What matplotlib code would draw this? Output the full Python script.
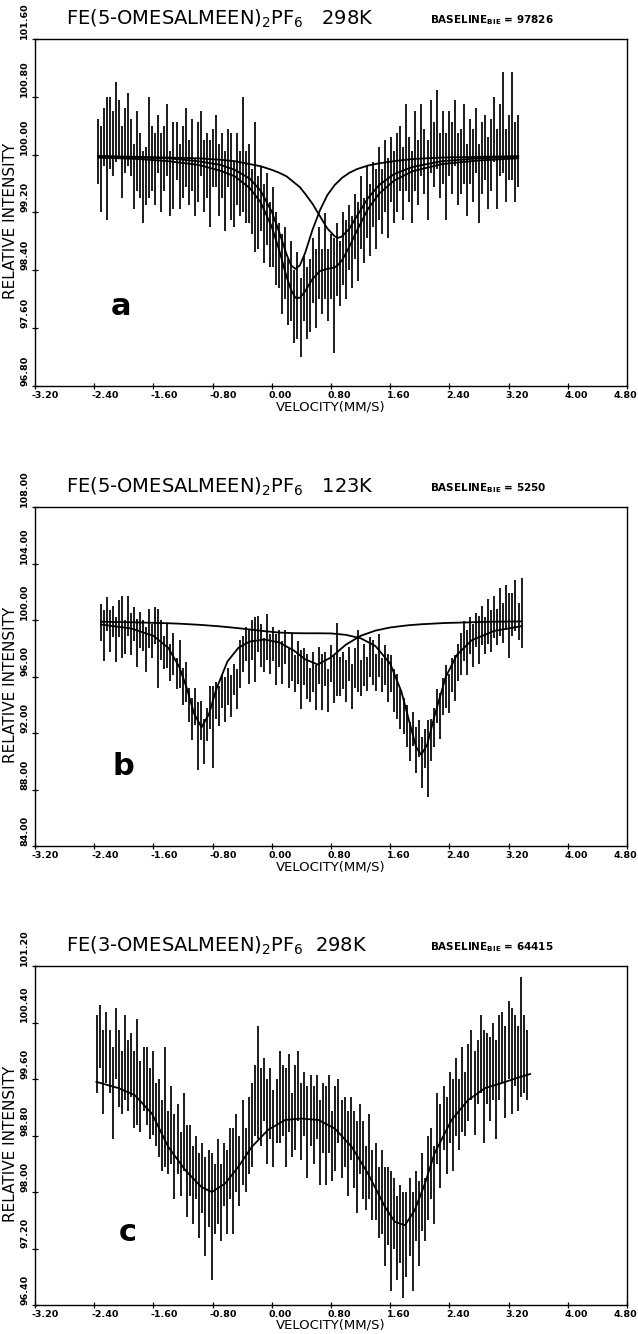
import numpy as np
import matplotlib
matplotlib.use("Agg")
import matplotlib.pyplot as plt
from matplotlib import transforms

# ---------------- panel a : FE(5-OMESALMEEN)2PF6 298K ----------------
A_VEL_RANGE = (-2.35, 3.33)
A_Y = [100.05, 99.80, 100.25, 99.95, 100.30, 100.15, 100.45, 100.35, 99.90, 100.20,
       100.35, 100.10, 99.70, 100.05, 99.85, 99.55, 99.70, 100.10, 99.95, 99.80,
       100.15, 99.75, 99.95, 100.20, 99.60, 99.85, 100.05, 99.70, 99.90, 100.10,
       99.75, 100.00, 99.55, 99.90, 100.15, 99.70, 99.85, 99.60, 99.95, 100.05,
       99.65, 99.85, 99.50, 99.95, 99.70, 99.45, 99.80, 99.60, 100.00, 99.55,
       99.60, 99.35, 99.55, 99.20, 99.40, 99.05, 99.25, 98.90, 99.00, 98.70,
       98.60, 98.35, 98.50, 98.10, 98.25, 97.90, 98.05, 97.75, 98.15, 97.95,
       98.05, 98.40, 98.15, 98.50, 98.25, 98.60, 98.20, 98.45, 98.05, 98.55,
       98.35, 98.70, 98.55, 98.85, 98.65, 99.00, 98.80, 99.20, 98.95, 99.35,
       99.10, 99.45, 99.25, 99.60, 99.35, 99.70, 99.40, 99.80, 99.55, 99.75,
       99.95, 99.60, 100.10, 99.80, 99.55, 100.05, 99.75, 100.20, 99.90, 99.65,
       100.25, 100.00, 100.35, 99.85, 100.10, 99.70, 100.15, 99.95, 100.30, 99.80,
       99.90, 100.15, 99.65, 100.05, 99.85, 100.20, 99.60, 99.95, 100.10, 99.75,
       100.00, 100.35, 99.80, 100.20, 100.45, 99.85, 100.10, 100.40, 99.90, 100.05]
A_ERR = [0.45, 0.60, 0.40, 0.85, 0.50, 0.45, 0.55, 0.40, 0.50, 0.45,
         0.50, 0.40, 0.45, 0.55, 0.45, 0.50, 0.40, 0.70, 0.45, 0.50,
         0.40, 0.55, 0.45, 0.50, 0.45, 0.60, 0.40, 0.45, 0.50, 0.55,
         0.45, 0.50, 0.40, 0.55, 0.45, 0.50, 0.45, 0.60, 0.40, 0.50,
         0.50, 0.45, 0.55, 0.40, 0.60, 0.45, 0.50, 0.45, 0.80, 0.50,
         0.55, 0.45, 0.90, 0.50, 0.45, 0.55, 0.50, 0.45, 0.55, 0.50,
         0.45, 0.55, 0.50, 0.45, 0.55, 0.50, 0.60, 0.55, 0.45, 0.50,
         0.50, 0.45, 0.55, 0.50, 0.45, 0.60, 0.50, 0.45, 0.80, 0.50,
         0.45, 0.50, 0.55, 0.45, 0.50, 0.45, 0.55, 0.50, 0.45, 0.50,
         0.50, 0.45, 0.55, 0.50, 0.45, 0.50, 0.55, 0.45, 0.50, 0.55,
         0.45, 0.50, 0.60, 0.45, 0.50, 0.55, 0.45, 0.50, 0.45, 0.55,
         0.50, 0.45, 0.55, 0.45, 0.50, 0.60, 0.45, 0.50, 0.45, 0.50,
         0.45, 0.55, 0.50, 0.45, 0.50, 0.45, 0.55, 0.50, 0.45, 0.50,
         0.50, 0.45, 0.55, 0.50, 0.70, 0.50, 0.45, 0.75, 0.55, 0.50]
A_FIT_V = [-2.35, -1.80, -1.40, -1.00, -0.70, -0.50, -0.30, -0.15, 0.00, 0.10,
           0.20, 0.26, 0.32, 0.38, 0.45, 0.55, 0.65, 0.75, 0.85, 0.90,
           0.95, 1.05, 1.15, 1.30, 1.45, 1.65, 1.90, 2.30, 2.80, 3.33]
A_FIT_1 = [99.98, 99.96, 99.95, 99.91, 99.86, 99.79, 99.67, 99.50, 99.21, 98.93,
           98.62, 98.47, 98.42, 98.47, 98.64, 98.96, 99.23, 99.44, 99.58, 99.63,
           99.68, 99.75, 99.80, 99.85, 99.88, 99.91, 99.94, 99.96, 99.97, 99.98]
A_FIT_2 = [99.98, 99.97, 99.96, 99.95, 99.93, 99.91, 99.87, 99.84, 99.79, 99.75,
           99.70, 99.65, 99.60, 99.55, 99.46, 99.32, 99.15, 98.98, 98.87, 98.85,
           98.87, 98.98, 99.15, 99.40, 99.58, 99.73, 99.83, 99.91, 99.95, 99.97]
A_FIT_SUM = [99.96, 99.94, 99.91, 99.86, 99.78, 99.70, 99.54, 99.34, 99.00, 98.68,
             98.31, 98.13, 98.02, 98.02, 98.11, 98.28, 98.39, 98.42, 98.44, 98.48,
             98.54, 98.73, 98.95, 99.25, 99.46, 99.64, 99.77, 99.87, 99.92, 99.95]
A_YTICKS = [96.80, 97.60, 98.40, 99.20, 100.00, 100.80, 101.60]

# ---------------- panel b : FE(5-OMESALMEEN)2PF6 123K ----------------
B_VEL_RANGE = (-2.31, 3.375)
B_Y = [99.8, 98.9, 100.4, 99.2, 99.9, 98.6, 100.1, 99.5, 98.8, 100.3,
       99.0, 99.7, 98.4, 99.3, 98.9, 97.9, 99.4, 98.5, 99.6, 98.0,
       98.6, 97.7, 98.2, 97.0, 97.6, 96.2, 96.9, 95.3, 95.6, 94.0,
       93.0, 93.9, 91.8, 92.9, 91.4, 92.6, 93.8, 92.4, 94.3, 93.9,
       95.0, 94.4, 95.3, 94.6, 95.8, 95.1, 96.9, 97.6, 98.3, 97.4,
       98.6, 97.9, 99.0, 98.2, 97.5, 98.8, 97.6, 98.3, 97.2, 98.0,
       97.0, 98.1, 96.6, 97.4, 96.2, 97.0, 95.8, 96.7, 96.0, 95.4,
       96.3, 95.2, 96.8, 95.6, 96.5, 95.0, 96.9, 95.8, 97.2, 96.0,
       96.4, 95.7, 96.9, 95.3, 96.6, 97.1, 95.9, 96.8, 96.2, 97.4,
       97.0, 96.3, 97.5, 96.1, 96.8, 95.9, 96.2, 95.0, 94.6, 93.7,
       93.2, 92.5, 91.4, 92.3, 90.8, 91.6, 89.9, 90.9, 90.2, 91.5,
       92.4, 93.9, 93.2, 94.6, 95.3, 94.8, 96.1, 95.9, 97.0, 97.6,
       98.5, 97.7, 98.9, 98.2, 99.3, 98.6, 99.6, 98.9, 99.9, 99.2,
       100.2, 99.5, 100.6, 99.8, 100.9, 99.6, 100.4, 101.0, 99.9, 100.5]
B_ERR = [1.3, 1.8, 1.2, 1.5, 1.1, 1.6, 1.3, 2.2, 1.2, 1.4,
         1.5, 1.2, 1.7, 1.3, 1.1, 1.6, 1.4, 1.2, 1.3, 2.8,
         1.4, 1.2, 1.6, 1.3, 1.5, 1.1, 1.7, 1.3, 1.4, 1.2,
         1.5, 1.3, 2.4, 1.4, 1.6, 1.2, 1.5, 2.9, 1.3, 1.4,
         1.2, 1.6, 1.3, 1.5, 1.1, 1.4, 1.7, 1.3, 1.2, 1.9,
         1.4, 2.3, 1.3, 1.5, 1.2, 1.6, 1.4, 1.2, 1.8, 1.3,
         1.5, 1.2, 1.4, 1.7, 1.3, 1.5, 2.1, 1.3, 1.6, 1.2,
         1.4, 1.6, 1.3, 2.0, 1.2, 1.5, 1.3, 1.7, 2.6, 1.4,
         1.3, 1.5, 1.2, 1.6, 1.4, 2.2, 1.3, 1.5, 1.2, 1.4,
         1.6, 1.3, 1.5, 1.2, 1.4, 1.7, 1.3, 1.5, 1.6, 1.4,
         1.3, 1.5, 1.4, 1.2, 1.6, 1.3, 1.8, 1.4, 2.7, 1.5,
         1.4, 1.2, 1.6, 1.3, 1.5, 1.4, 1.2, 1.6, 1.3, 1.5,
         1.4, 1.6, 1.3, 1.5, 1.2, 1.7, 1.4, 1.3, 1.6, 1.5,
         1.5, 1.3, 1.7, 1.4, 1.6, 2.3, 1.5, 1.8, 1.3, 2.5]
B_FIT_V = [-2.31, -1.90, -1.60, -1.40, -1.25, -1.15, -1.05, -0.95, -0.85, -0.75,
           -0.60, -0.45, -0.30, -0.10, 0.10, 0.30, 0.45, 0.62, 0.80, 1.00,
           1.20, 1.40, 1.60, 1.75, 1.85, 1.95, 2.02, 2.10, 2.20, 2.35,
           2.50, 2.70, 3.00, 3.38]
B_FIT_1 = [99.68, 99.40, 98.88, 98.03, 96.68, 95.19, 93.37, 92.40, 93.33, 95.10,
           97.06, 98.04, 98.47, 98.62, 98.41, 97.83, 97.22, 96.85, 97.35, 98.25,
           98.88, 99.25, 99.47, 99.57, 99.63, 99.67, 99.70, 99.72, 99.75, 99.79,
           99.81, 99.84, 99.88, 99.90]
B_FIT_2 = [99.88, 99.84, 99.80, 99.77, 99.74, 99.71, 99.68, 99.65, 99.61, 99.57,
           99.50, 99.42, 99.33, 99.21, 99.11, 99.07, 99.06, 99.06, 99.05, 98.95,
           98.71, 98.16, 96.91, 94.95, 92.97, 91.00, 90.46, 91.18, 93.23, 95.96,
           97.52, 98.56, 99.22, 99.57]
B_YTICKS = [84.0, 88.0, 92.0, 96.0, 100.0, 104.0, 108.0]

# ---------------- panel c : FE(3-OMESALMEEN)2PF6 298K ----------------
C_VEL_RANGE = (-2.36, 3.45)
C_Y = [99.95, 100.20, 99.70, 100.05, 99.85, 99.40, 100.10, 99.75, 99.55, 99.90,
       99.65, 99.80, 99.45, 99.70, 99.35, 99.60, 99.50, 99.25, 99.40, 99.10,
       99.05, 98.80, 99.20, 98.70, 98.95, 98.50, 98.75, 98.40, 98.85, 98.30,
       98.45, 98.10, 98.35, 97.95, 98.20, 97.80, 98.05, 97.65, 97.90, 98.15,
       97.85, 98.25, 98.00, 98.40, 98.15, 98.55, 98.30, 98.70, 98.45, 98.80,
       98.95, 99.30, 99.55, 99.20, 99.45, 99.00, 99.25, 98.90, 99.15, 99.35,
       99.30, 99.05, 99.40, 98.95, 99.20, 99.50, 99.00, 99.25, 98.85, 99.15,
       98.95, 99.20, 98.70, 99.05, 98.80, 99.10, 98.65, 98.90, 99.15, 98.75,
       98.85, 98.55, 98.90, 98.60, 98.35, 98.75, 98.45, 98.20, 98.50, 98.10,
       98.15, 97.85, 98.00, 97.65, 97.80, 97.45, 97.70, 97.35, 97.55, 97.25,
       97.40, 97.65, 97.30, 97.80, 97.55, 98.00, 97.75, 98.20, 98.40, 98.10,
       98.90, 98.65, 99.05, 98.80, 99.20, 98.95, 99.35, 99.10, 99.45, 99.25,
       99.55, 99.80, 99.40, 99.70, 99.95, 99.50, 99.75, 99.60, 99.85, 99.45,
       99.90, 100.05, 99.70, 100.15, 99.85, 100.00, 99.75, 100.20, 99.95, 99.80]
C_ERR = [0.55, 0.45, 0.60, 0.50, 0.45, 0.65, 0.50, 0.55, 0.45, 0.60,
         0.50, 0.45, 0.55, 0.75, 0.50, 0.45, 0.55, 0.50, 0.60, 0.45,
         0.55, 0.50, 0.85, 0.45, 0.55, 0.60, 0.50, 0.45, 0.55, 0.65,
         0.50, 0.55, 0.45, 0.60, 0.50, 0.70, 0.55, 0.90, 0.50, 0.60,
         0.55, 0.45, 0.60, 0.50, 0.75, 0.55, 0.50, 0.60, 0.45, 0.55,
         0.60, 0.50, 0.80, 0.55, 0.45, 0.60, 0.50, 0.55, 0.45, 0.65,
         0.50, 0.70, 0.55, 0.45, 0.60, 0.50, 0.55, 0.45, 0.65, 0.50,
         0.55, 0.45, 0.60, 0.50, 0.70, 0.55, 0.50, 0.60, 0.45, 0.55,
         0.50, 0.60, 0.45, 0.55, 0.65, 0.50, 0.55, 0.45, 0.60, 0.50,
         0.55, 0.50, 0.60, 0.70, 0.55, 0.85, 0.50, 0.60, 0.55, 0.75,
         0.60, 0.55, 0.70, 0.50, 0.60, 0.55, 0.45, 0.60, 0.50, 0.55,
         0.50, 0.60, 0.45, 0.55, 0.50, 0.65, 0.55, 0.50, 0.60, 0.45,
         0.55, 0.50, 0.60, 0.45, 0.55, 0.80, 0.50, 0.60, 0.55, 0.70,
         0.60, 0.50, 0.65, 0.55, 0.75, 0.50, 0.60, 0.85, 0.55, 0.50]
C_FIT_V = [-2.37, -2.07, -1.85, -1.62, -1.40, -1.17, -0.95, -0.81, -0.63, -0.45,
           -0.27, -0.05, 0.18, 0.40, 0.63, 0.85, 1.08, 1.30, 1.53, 1.66,
           1.80, 1.93, 2.07, 2.20, 2.43, 2.65, 2.88, 3.10, 3.33, 3.49]
C_FIT = [99.56, 99.47, 99.37, 99.11, 98.64, 98.31, 98.07, 98.00, 98.12, 98.36,
         98.64, 98.88, 99.02, 99.04, 99.02, 98.90, 98.64, 98.26, 97.79, 97.58,
         97.53, 97.74, 98.12, 98.55, 99.02, 99.30, 99.47, 99.54, 99.62, 99.67]
C_YTICKS = [96.40, 97.20, 98.00, 98.80, 99.60, 100.40, 101.20]

X_TICKS = [-3.20, -2.40, -1.60, -0.80, 0.00, 0.80, 1.60, 2.40, 3.20, 4.00, 4.80]

TITLES = [r"FE(5-OMESALMEEN)$_2$PF$_6$   298K",
          r"FE(5-OMESALMEEN)$_2$PF$_6$   123K",
          r"FE(3-OMESALMEEN)$_2$PF$_6$  298K"]
BASELINES = ["97826", "5250", "64415"]
LETTERS = ["a", "b", "c"]

# ---------------- drawing ----------------
W, H = 638, 1334
fig = plt.figure(figsize=(W / 100, H / 100), dpi=100)
plt.rcParams['font.family'] = ['DejaVu Sans']

LEFT, RIGHT = 35, 627
PANEL_PX = [(39, 386), (507, 846), (966, 1305)]   # (top, bottom) in pixels
LETTER_POS = [(-2.04, 97.90), (-2.00, 89.6), (-1.94, 97.43)]


def panel(idx, vel_range, yv, err, fits, yticks):
    top, bot = PANEL_PX[idx]
    ax = fig.add_axes([LEFT / W, 1 - bot / H, (RIGHT - LEFT) / W, (bot - top) / H])
    ax.set_xlim(-3.2, 4.8)
    ax.set_ylim(yticks[0], yticks[-1])
    for s in ax.spines.values():
        s.set_linewidth(1.0)
        s.set_color('black')
    ax.set_xticks(X_TICKS)
    ax.set_yticks(yticks)
    ax.tick_params(direction='inout', length=5, width=0.9,
                   labelbottom=False, labelleft=False)

    yv = np.asarray(yv)
    err = np.asarray(err)
    vel = np.linspace(vel_range[0], vel_range[1], len(yv))
    ax.vlines(vel, yv - err, yv + err, color='black', lw=1.25)
    for fx, fy in fits:
        ax.plot(fx, fy, color='black', lw=1.3, solid_joinstyle='round')

    # y tick labels, rotated, starting at the tick
    ty = transforms.blended_transform_factory(ax.transAxes, ax.transData)
    ty_off = transforms.offset_copy(ty, fig=fig, x=-6, y=0, units='dots')
    for t in yticks:
        ax.text(0, t, f"{t:.2f}", transform=ty_off, rotation=90,
                rotation_mode='anchor', ha='left', va='bottom',
                fontsize=6.8, fontweight='bold')
    # x tick labels (the last one is kept inside the picture)
    tx = transforms.blended_transform_factory(ax.transData, ax.transAxes)
    tx_off = transforms.offset_copy(tx, fig=fig, x=-3, y=-5, units='dots')
    for t in X_TICKS[:-1]:
        ax.text(t, 0, f"{t:.2f}", transform=tx_off, ha='left', va='top',
                fontsize=6.8, fontweight='bold')
    fig.text(637 / W, 1 - (bot + 5) / H, f"{X_TICKS[-1]:.2f}", ha='right',
             va='top', fontsize=6.8, fontweight='bold')
    xl_off = transforms.offset_copy(ax.transAxes, fig=fig, x=0, y=-14, units='dots')
    ax.text(0.5, 0, "VELOCITY(MM/S)", transform=xl_off, ha='center', va='top',
            fontsize=9.5)
    fig.text(11 / W, 1 - ((top + bot) / 2 + 8) / H, "RELATIVE INTENSITY",
             rotation=90, ha='center', va='center', fontsize=11)

    # titles
    fig.text(66 / W, 1 - (top - 20) / H, TITLES[idx], ha='left', va='center',
             fontsize=14)
    fig.text(430 / W, 1 - (top - 19) / H,
             r"BASELINE$_{\mathbf{BIE}}$ = " + BASELINES[idx],
             ha='left', va='center', fontsize=7.5, fontweight='bold')
    lx, ly = LETTER_POS[idx]
    ax.text(lx, ly, LETTERS[idx], ha='center', va='center', fontsize=22,
            fontweight='bold')
    return ax


panel(0, A_VEL_RANGE, A_Y, A_ERR,
      [(A_FIT_V, A_FIT_1), (A_FIT_V, A_FIT_2), (A_FIT_V, A_FIT_SUM)], A_YTICKS)
panel(1, B_VEL_RANGE, B_Y, B_ERR,
      [(B_FIT_V, B_FIT_1), (B_FIT_V, B_FIT_2)], B_YTICKS)
panel(2, C_VEL_RANGE, C_Y, C_ERR, [(C_FIT_V, C_FIT)], C_YTICKS)

fig.savefig("out.png", dpi=100, facecolor='white')
